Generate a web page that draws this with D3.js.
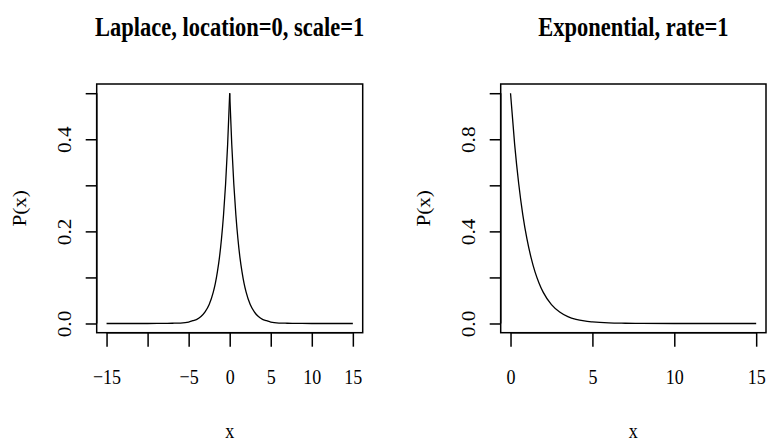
<!DOCTYPE html>
<html>
<head>
<meta charset="utf-8">
<script src="https://cdn.jsdelivr.net/npm/d3@7"></script>
<style>
  html, body { margin: 0; padding: 0; background: #fff; }
  svg { display: block; }
  text { font-family: "Liberation Serif", "Times New Roman", serif; fill: #000; }
</style>
</head>
<body>
<svg id="chart" width="768" height="442"></svg>
<script>
// Laplace(0, 1) density, sampled along x
const laplaceX = [-15, -12, -10, -8, -7, -6, -5, -4.5, -4, -3.5, -3, -2.5, -2, -1.75, -1.5, -1.25, -1, -0.75, -0.5, -0.25, 0,
                  0.25, 0.5, 0.75, 1, 1.25, 1.5, 1.75, 2, 2.5, 3, 3.5, 4, 4.5, 5, 6, 7, 8, 10, 12, 15];
const laplaceP = [0, 0, 0, 0.0002, 0.0005, 0.001, 0.003, 0.006, 0.009, 0.015, 0.025, 0.041, 0.068, 0.087, 0.112, 0.143, 0.184, 0.236, 0.303, 0.389, 0.5,
                  0.389, 0.303, 0.236, 0.184, 0.143, 0.112, 0.087, 0.068, 0.041, 0.025, 0.015, 0.009, 0.006, 0.003, 0.001, 0.0005, 0.0002, 0, 0, 0];

// Exponential(rate 1) density
const expX = [0, 0.25, 0.5, 0.75, 1, 1.25, 1.5, 1.75, 2, 2.5, 3, 3.5, 4, 4.5, 5, 6, 7, 8, 10, 12, 15];
const expP = [1.0, 0.779, 0.607, 0.472, 0.368, 0.287, 0.223, 0.174, 0.135, 0.082, 0.050, 0.030, 0.018, 0.011, 0.007, 0.0025, 0.001, 0.0003, 0, 0, 0];

// Axis ticks and labels
const laplaceXTicks = [-15, -10, -5, 0, 5, 10, 15];
const laplaceXTickLabels = ["\u221215", "", "\u22125", "0", "5", "10", "15"];
const laplaceYTicks = [0, 0.1, 0.2, 0.3, 0.4, 0.5];
const laplaceYTickLabels = ["0.0", "", "0.2", "", "0.4", ""];

const expXTicks = [0, 5, 10, 15];
const expXTickLabels = ["0", "5", "10", "15"];
const expYTicks = [0, 0.2, 0.4, 0.6, 0.8, 1.0];
const expYTickLabels = ["0.0", "", "0.4", "", "0.8", ""];

const titles = ["Laplace, location=0, scale=1", "Exponential, rate=1"];
const xLabel = "x";
const yLabel = "P(x)";

const svg = d3.select("#chart");
const STRETCH = 1.18;   // glyphs are drawn a bit taller than wide
const FS = 18;          // axis text size
const plotTop = 84, plotBottom = 332.7;

function panel(opts) {
  const { left, right, xDomain, yDomain, title, xTicks, xTickLabels, yTicks, yTickLabels, segments,
          yTickLabelX, yLabelX } = opts;
  const x = d3.scaleLinear().domain(xDomain).range([left, right]);
  const y = d3.scaleLinear().domain(yDomain).range([plotBottom, plotTop]);
  const g = svg.append("g");

  // curve
  const line = d3.line().x(d => x(d[0])).y(d => y(d[1])).curve(d3.curveMonotoneX);
  segments.forEach(seg => {
    g.append("path").datum(seg).attr("d", line)
      .attr("fill", "none").attr("stroke", "#000").attr("stroke-width", 1.3)
      .attr("stroke-linejoin", "round");
  });

  // frame
  g.append("rect").attr("x", left).attr("y", plotTop)
    .attr("width", right - left).attr("height", plotBottom - plotTop)
    .attr("fill", "none").attr("stroke", "#000").attr("stroke-width", 1.5);

  // x axis
  const xAxis = d3.axisBottom(x).tickValues(xTicks).tickSize(14)
    .tickFormat((d, i) => xTickLabels[i]);
  const gx = g.append("g").attr("transform", `translate(0,${plotBottom})`).call(xAxis);
  gx.select(".domain").attr("d", `M${x(xTicks[0])},0H${x(xTicks[xTicks.length - 1])}`)
    .attr("stroke-width", 1.5);
  gx.selectAll(".tick line").attr("stroke-width", 1.5);
  gx.selectAll(".tick text")
    .attr("font-size", FS).attr("font-family", "Liberation Serif, serif")
    .attr("dy", null).attr("y", 0)
    .attr("transform", `translate(0,${384 - plotBottom}) scale(1,${STRETCH})`);

  // y axis
  const yAxis = d3.axisLeft(y).tickValues(yTicks).tickSize(11)
    .tickFormat((d, i) => yTickLabels[i]);
  const gy = g.append("g").attr("transform", `translate(${left},0)`).call(yAxis);
  gy.select(".domain").attr("d", `M0,${y(yTicks[0])}V${y(yTicks[yTicks.length - 1])}`)
    .attr("stroke-width", 1.5);
  gy.selectAll(".tick line").attr("stroke-width", 1.5);
  gy.selectAll(".tick text")
    .attr("font-size", FS).attr("font-family", "Liberation Serif, serif")
    .attr("x", 0).attr("dy", null).attr("y", 0)
    .attr("text-anchor", "middle")
    .attr("transform", `translate(${yTickLabelX - left},0) scale(1,${STRETCH}) rotate(-90)`);

  const cx = (left + right) / 2;
  // title
  g.append("text").text(title)
    .attr("font-size", 22.5).attr("font-weight", "bold").attr("text-anchor", "middle")
    .attr("transform", `translate(${cx},36) scale(1,${STRETCH})`);
  // axis labels
  g.append("text").text(xLabel)
    .attr("font-size", FS).attr("text-anchor", "middle")
    .attr("transform", `translate(${cx},438) scale(1,${STRETCH})`);
  g.append("text").text(yLabel)
    .attr("font-size", FS).attr("text-anchor", "middle")
    .attr("transform", `translate(${yLabelX},${(plotTop + plotBottom) / 2}) scale(1,${STRETCH}) rotate(-90)`);
}

const lapPts = laplaceX.map((v, i) => [v, laplaceP[i]]);
const peak = laplaceX.indexOf(0);

panel({
  left: 96.7, right: 362.7,
  xDomain: [-16.2, 16.2], yDomain: [-0.02, 0.52],
  title: titles[0],
  xTicks: laplaceXTicks, xTickLabels: laplaceXTickLabels,
  yTicks: laplaceYTicks, yTickLabels: laplaceYTickLabels,
  segments: [lapPts.slice(0, peak + 1), lapPts.slice(peak)],
  yTickLabelX: 71, yLabelX: 26
});

panel({
  left: 500.7, right: 766,
  xDomain: [-0.6, 15.6], yDomain: [-0.04, 1.04],
  title: titles[1],
  xTicks: expXTicks, xTickLabels: expXTickLabels,
  yTicks: expYTicks, yTickLabels: expYTickLabels,
  segments: [expX.map((v, i) => [v, expP[i]])],
  yTickLabelX: 474.5, yLabelX: 430
});
</script>
</body>
</html>
